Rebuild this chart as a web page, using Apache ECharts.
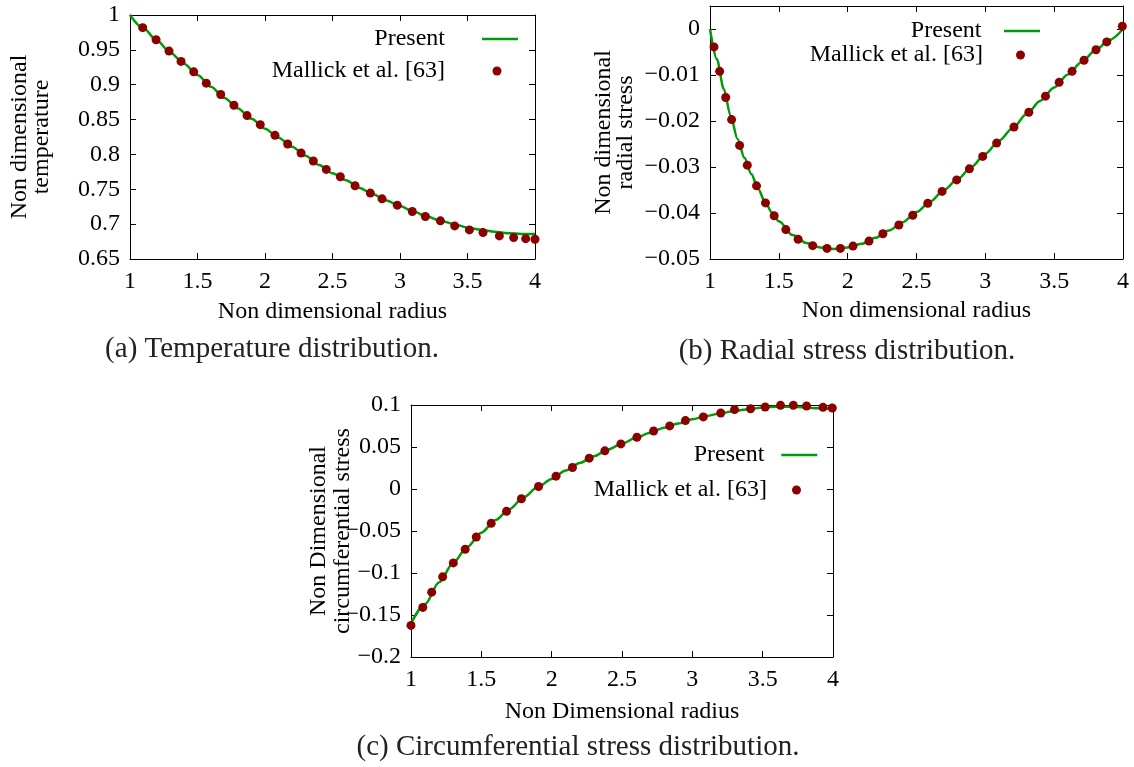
<!DOCTYPE html>
<html>
<head>
<meta charset="utf-8">
<script src="https://cdn.jsdelivr.net/npm/echarts@6/dist/echarts.min.js"></script>
<style>html,body{margin:0;padding:0;background:#fff}#c{width:1134px;height:767px}</style>
</head>
<body>
<div id="c"></div>
<script>
// ---------------- data ----------------
const presentRadius = [1.0,1.1,1.2,1.3,1.4,1.5,1.6,1.7,1.8,1.9,2.0,2.1,2.2,2.3,2.4,2.5,2.6,2.7,2.8,2.9,3.0,3.1,3.2,3.3,3.4,3.5,3.6,3.7,3.8,3.9,4.0];

// (a) temperature
const tempPresent = [1.000,0.981,0.963,0.946,0.930,0.914,0.897,0.881,0.866,0.851,0.837,0.824,0.811,0.798,0.785,0.773,0.763,0.752,0.743,0.734,0.726,0.718,0.711,0.705,0.700,0.695,0.692,0.689,0.687,0.686,0.686];
const tempRefRadius = [1.094,1.193,1.289,1.378,1.472,1.565,1.672,1.770,1.867,1.965,2.074,2.168,2.267,2.358,2.454,2.558,2.667,2.780,2.867,2.980,3.091,3.188,3.299,3.405,3.514,3.615,3.736,3.842,3.931,4.000];
const tempRef = [0.9818,0.9645,0.9482,0.9334,0.9185,0.9022,0.8859,0.8705,0.8557,0.8427,0.8274,0.8149,0.8020,0.7905,0.7785,0.7679,0.7550,0.7445,0.7363,0.7272,0.7181,0.7109,0.7047,0.6975,0.6917,0.6879,0.6831,0.6807,0.6792,0.6783];

// (b) radial stress
const radialPresentRadius = [1.0,1.05,1.1,1.15,1.2,1.25,1.3,1.35,1.4,1.45,1.5,1.6,1.7,1.8,1.9,2.0,2.1,2.2,2.3,2.4,2.5,2.6,2.7,2.8,2.9,3.0,3.1,3.2,3.3,3.4,3.5,3.6,3.7,3.8,3.9,4.0];
const radialPresent = [0,-0.0066,-0.0130,-0.0189,-0.0239,-0.0280,-0.0315,-0.0348,-0.0376,-0.0399,-0.0418,-0.0448,-0.0465,-0.0475,-0.0478,-0.0475,-0.0467,-0.0454,-0.0438,-0.0420,-0.0398,-0.0375,-0.0350,-0.0326,-0.0300,-0.0271,-0.0243,-0.0215,-0.0185,-0.0156,-0.0127,-0.0099,-0.0072,-0.0046,-0.0024,0];
const radialRefRadius = [1.029,1.070,1.114,1.157,1.215,1.271,1.338,1.403,1.466,1.551,1.640,1.746,1.850,1.947,2.039,2.155,2.256,2.372,2.473,2.582,2.686,2.792,2.884,2.981,3.082,3.208,3.316,3.437,3.536,3.630,3.717,3.804,3.882,3.995];
const radialRef = [-0.0039,-0.0092,-0.0149,-0.0197,-0.0253,-0.0296,-0.0341,-0.0378,-0.0406,-0.0436,-0.0457,-0.0471,-0.0477,-0.0477,-0.0472,-0.0461,-0.0445,-0.0426,-0.0405,-0.0379,-0.0353,-0.0328,-0.0304,-0.0277,-0.0248,-0.0213,-0.0181,-0.0146,-0.0116,-0.0092,-0.0068,-0.0045,-0.0028,0.0006];

// (c) circumferential stress
const hoopPresent = [-0.160,-0.137,-0.111,-0.088,-0.069,-0.052,-0.037,-0.024,-0.010,0.002,0.012,0.022,0.031,0.039,0.047,0.054,0.061,0.067,0.073,0.078,0.083,0.087,0.090,0.093,0.095,0.097,0.098,0.098,0.097,0.096,0.095];
const hoopRefRadius = [1.000,1.084,1.147,1.225,1.301,1.385,1.464,1.570,1.679,1.785,1.907,2.031,2.148,2.267,2.378,2.492,2.606,2.725,2.839,2.951,3.078,3.202,3.300,3.414,3.518,3.627,3.718,3.812,3.929,3.995];
const hoopRef = [-0.1624,-0.1410,-0.1228,-0.1046,-0.0880,-0.0718,-0.0571,-0.0409,-0.0266,-0.0116,0.0030,0.0153,0.0256,0.0367,0.0454,0.0537,0.0616,0.0691,0.0751,0.0814,0.0858,0.0905,0.0945,0.0956,0.0976,0.0996,0.0996,0.0988,0.0972,0.0964];

const seriesNames = ['Present', 'Mallick et al. [63]'];
const xTitles = ['Non dimensional radius', 'Non dimensional radius', 'Non Dimensional radius'];
const yTitles = ['Non dimensional\ntemperature', 'Non dimensional\nradial stress', 'Non Dimensional\ncircumferential stress'];
const captions = ['(a) Temperature distribution.', '(b) Radial stress distribution.', '(c) Circumferential stress distribution.'];
const xRange = {min: 1, max: 4, interval: 0.5};
const yRanges = [
  {min: 0.65, max: 1, interval: 0.05},
  {min: -0.05, max: 0.005, interval: 0.01},
  {min: -0.2, max: 0.1, interval: 0.05}
];

// ---------------- styling / layout ----------------
const FONT = 'Liberation Serif';
const GREEN = '#009a0a';
const DARKRED = '#8b0000';
const grids = [
  {left: 130, top: 15, width: 405, height: 244},
  {left: 710, top: 6, width: 413, height: 253},
  {left: 411, top: 405, width: 422, height: 252}
];
const xNameGap = [41, 40, 43];
const yNameGap = [77, 73, 56];
const yNameLH = [22, 22, 24];
const captionPos = [{x: 272, y: 335}, {x: 847, y: 337}, {x: 578, y: 733}];
const legendPos = [
  {line: {right: 616, top: 27, pad: 32}, dot: {right: 632.5, top: 59, pad: 42.5}},
  {line: {right: 94, top: 19, pad: 17.5}, dot: {right: 109, top: 43, pad: 28}},
  {line: {right: 316.7, top: 443, pad: 12}, dot: {right: 333, top: 478, pad: 20}}
];

function fmt(v) {
  const r = Math.round(v * 10000) / 10000;
  return String(r === 0 ? 0 : r).replace('-', '\u2212');
}
const lineSty = {color: '#000', width: 1};

const xAxis = [], yAxis = [], series = [], legend = [], title = [];
const lineData = [
  presentRadius.map((r, i) => [r, tempPresent[i]]),
  radialPresentRadius.map((r, i) => [r, radialPresent[i]]),
  presentRadius.map((r, i) => [r, hoopPresent[i]])
];
const refData = [
  tempRefRadius.map((r, i) => [r, tempRef[i]]),
  radialRefRadius.map((r, i) => [r, radialRef[i]]),
  hoopRefRadius.map((r, i) => [r, hoopRef[i]])
];

for (let g = 0; g < 3; g++) {
  const base = {
    type: 'value', gridIndex: g, scale: true,
    splitLine: {show: false},
    axisLine: {show: true, onZero: false, lineStyle: lineSty},
    axisTick: {show: true, inside: true, length: 6, lineStyle: lineSty}
  };
  xAxis.push(Object.assign({}, base, xRange, {
    position: 'bottom',
    axisLabel: {show: true, margin: 11, fontFamily: FONT, fontSize: 24, color: '#000', formatter: fmt, showMinLabel: true, showMaxLabel: true},
    name: xTitles[g], nameLocation: 'middle', nameGap: xNameGap[g], nameMoveOverlap: false,
    nameTextStyle: {fontFamily: FONT, fontSize: 24, color: '#000'}
  }));
  xAxis.push(Object.assign({}, base, xRange, {position: 'top', axisLabel: {show: false}}));
  yAxis.push(Object.assign({}, base, yRanges[g], {
    position: 'left',
    axisLabel: {show: true, margin: 10, fontFamily: FONT, fontSize: 24, color: '#000', formatter: fmt,
      showMinLabel: true, showMaxLabel: g !== 1},
    name: yTitles[g], nameLocation: 'middle', nameRotate: 90, nameGap: yNameGap[g], nameMoveOverlap: false,
    nameTextStyle: {fontFamily: FONT, fontSize: 24, color: '#000', lineHeight: yNameLH[g]}
  }));
  yAxis.push(Object.assign({}, base, yRanges[g], {position: 'right', axisLabel: {show: false}}));

  series.push({
    type: 'line', name: seriesNames[0], xAxisIndex: 2 * g, yAxisIndex: 2 * g,
    data: lineData[g], symbol: 'none', smooth: 0.3, smoothMonotone: 'x',
    lineStyle: {color: GREEN, width: 2.5}, itemStyle: {color: GREEN}, z: 2, silent: true
  });
  series.push({
    type: 'scatter', name: seriesNames[1], xAxisIndex: 2 * g, yAxisIndex: 2 * g,
    data: refData[g], symbol: 'circle', symbolSize: 9,
    itemStyle: {color: DARKRED, opacity: 1}, z: 3, silent: true
  });

  const lp = legendPos[g];
  legend.push({
    data: [{name: seriesNames[0], icon: 'rect', itemStyle: {color: GREEN}}], orient: 'horizontal', align: 'right', selectedMode: false,
    right: lp.line.right, top: lp.line.top, padding: 0, itemGap: 0,
    itemWidth: 36, itemHeight: 2.5,
    textStyle: {fontFamily: FONT, fontSize: 24, color: '#000', padding: [0, lp.line.pad, 0, 0]}
  });
  legend.push({
    data: [{name: seriesNames[1], icon: 'circle'}], orient: 'horizontal', align: 'right', selectedMode: false,
    right: lp.dot.right, top: lp.dot.top, padding: 0, itemGap: 0,
    itemWidth: 9, itemHeight: 9,
    textStyle: {fontFamily: FONT, fontSize: 24, color: '#000', padding: [0, lp.dot.pad, 0, 0]}
  });

  title.push({
    text: captions[g], left: captionPos[g].x, top: captionPos[g].y, textAlign: 'center', padding: 0,
    textStyle: {fontFamily: FONT, fontSize: 29, fontWeight: 'normal', color: '#222'}
  });
}

const chart = echarts.init(document.getElementById('c'), null, {renderer: 'canvas'});
chart.setOption({
  backgroundColor: '#fff',
  animation: false,
  grid: grids.map(gr => Object.assign({containLabel: false, outerBoundsMode: 'none'}, gr)),
  xAxis, yAxis, series, legend, title,
  tooltip: {show: false}
});
</script>
</body>
</html>
